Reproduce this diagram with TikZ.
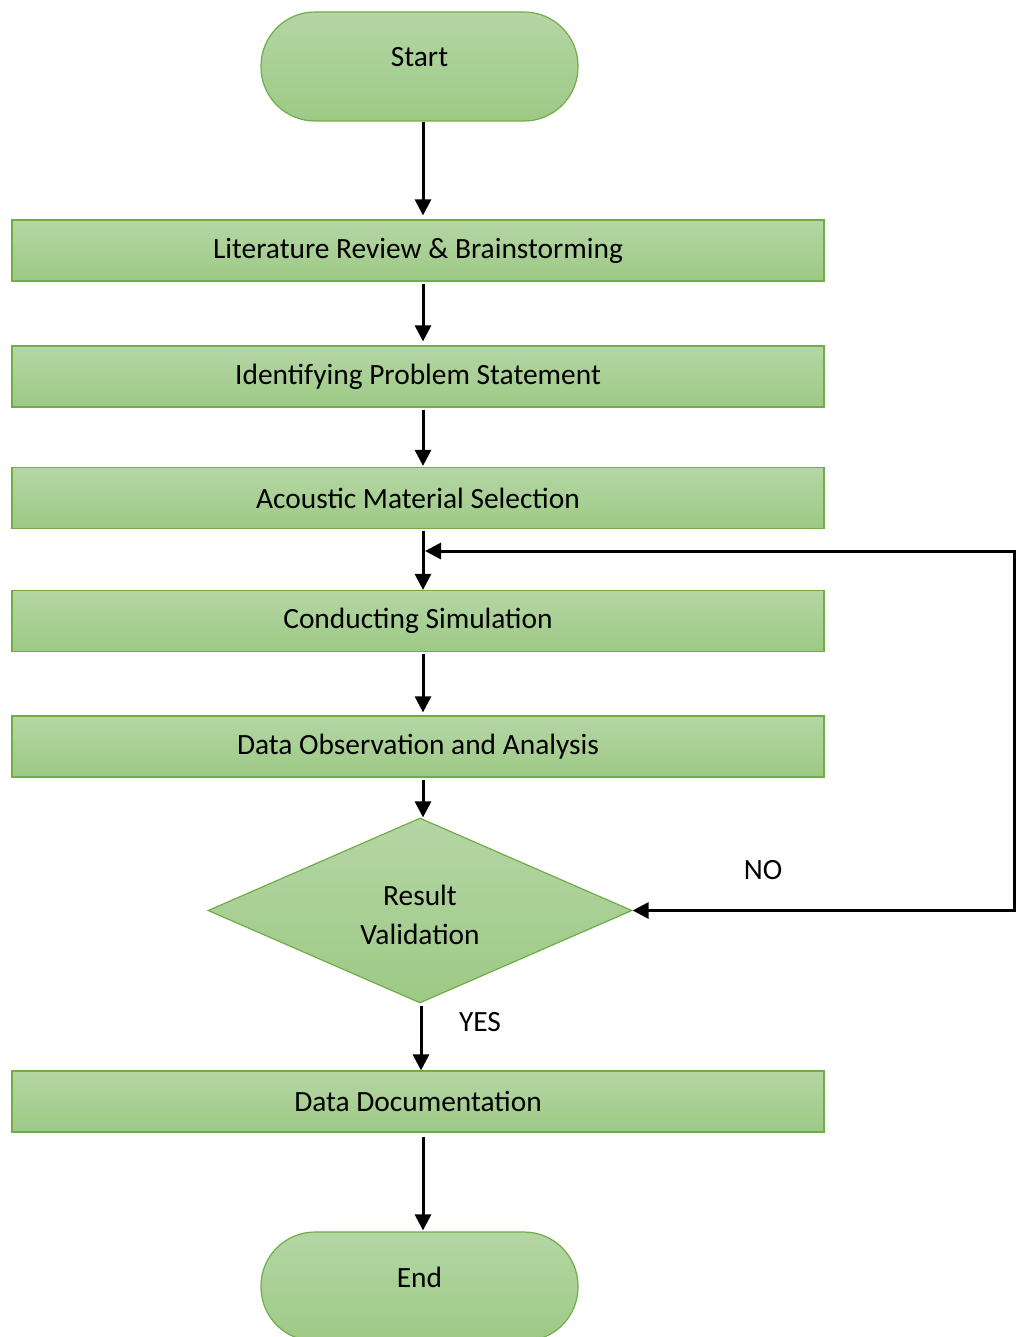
\documentclass[tikz,border=0pt]{standalone}
\usepackage{fontspec}
\setmainfont{Carlito}
\usetikzlibrary{arrows.meta,shapes.geometric}
\definecolor{gtop}{HTML}{B5D6A5}
\definecolor{gbot}{HTML}{9DC985}
\definecolor{gline}{HTML}{70AD47}
\begin{document}
\begin{tikzpicture}[x=1pt,y=-1pt,
  every node/.style={font=\fontsize{29.4}{39}\selectfont},
  fillg/.style={top color=gtop,bottom color=gbot,draw=gline,line width=1.2pt},
  stepbox/.style={fillg,rectangle,minimum width=812pt,minimum height=61pt,inner sep=0pt},
  term/.style={fillg,rectangle,rounded corners=54pt,minimum width=317pt,minimum height=109pt,inner sep=0pt},
  decide/.style={fillg,diamond,minimum width=424pt,minimum height=185pt,inner sep=0pt},
  arr/.style={line width=3pt,-{Triangle[length=16pt,width=16pt]}},
  lbl/.style={inner sep=0pt}]
\useasboundingbox (0,0) rectangle (1016,1337);
\clip (0,0) rectangle (1016,1337);

\node[term,label={[lbl,yshift=9.5pt]center:Start}] (start) at (419.5,66.5) {};
\node[stepbox] (b1) at (418,250.5) {Literature Review \& Brainstorming};
\node[stepbox] (b2) at (418,376.5) {Identifying Problem Statement};
\node[stepbox] (b3) at (418,498) {Acoustic Material Selection};
\node[stepbox] (b4) at (418,621) {Conducting Simulation};
\node[stepbox] (b5) at (418,746.5) {Data Observation and Analysis};
\node[decide,label={[lbl,align=center,yshift=-4pt]center:Result\\Validation}] (dia) at (420,910.5) {};
\node[stepbox] (b6) at (418,1101.5) {Data Documentation};
\node[term,label={[lbl,yshift=9.5pt]center:End}] (endn) at (419.5,1286.5) {};

\node[lbl] (no) at (763,870) {NO};
\node[lbl] (yes) at (480,1022) {YES};

\coordinate (ax) at (423,0);
\coordinate (ay) at (421,0);
\coordinate (rc) at (1014.5,551);
\coordinate (loopin) at (425,551);

\draw[arr,shorten >=4pt] (start.south -| ax) -- (b1.north -| ax);
\draw[arr,shorten <=2pt,shorten >=4pt] (b1.south -| ax) -- (b2.north -| ax);
\draw[arr,shorten <=2pt,shorten >=1pt] (b2.south -| ax) -- (b3.north -| ax);
\draw[arr,shorten <=2pt] (b3.south -| ax) -- (b4.north -| ax);
\draw[arr,shorten <=2pt,shorten >=3pt] (b4.south -| ax) -- (b5.north -| ax);
\draw[arr,shorten <=2pt] (b5.south -| ax) -- (dia.north -| ax);
\draw[arr,shorten <=2pt] (dia.south -| ay) -- (b6.north -| ay);
\draw[arr,shorten <=4pt,shorten >=1pt] (b6.south -| ax) -- (endn.north -| ax);
\draw[line width=3pt,{Triangle[length=16pt,width=16pt]}-{Triangle[length=16pt,width=16pt]}]
  (dia.east) -| (rc) -- (loopin);
\end{tikzpicture}
\end{document}
